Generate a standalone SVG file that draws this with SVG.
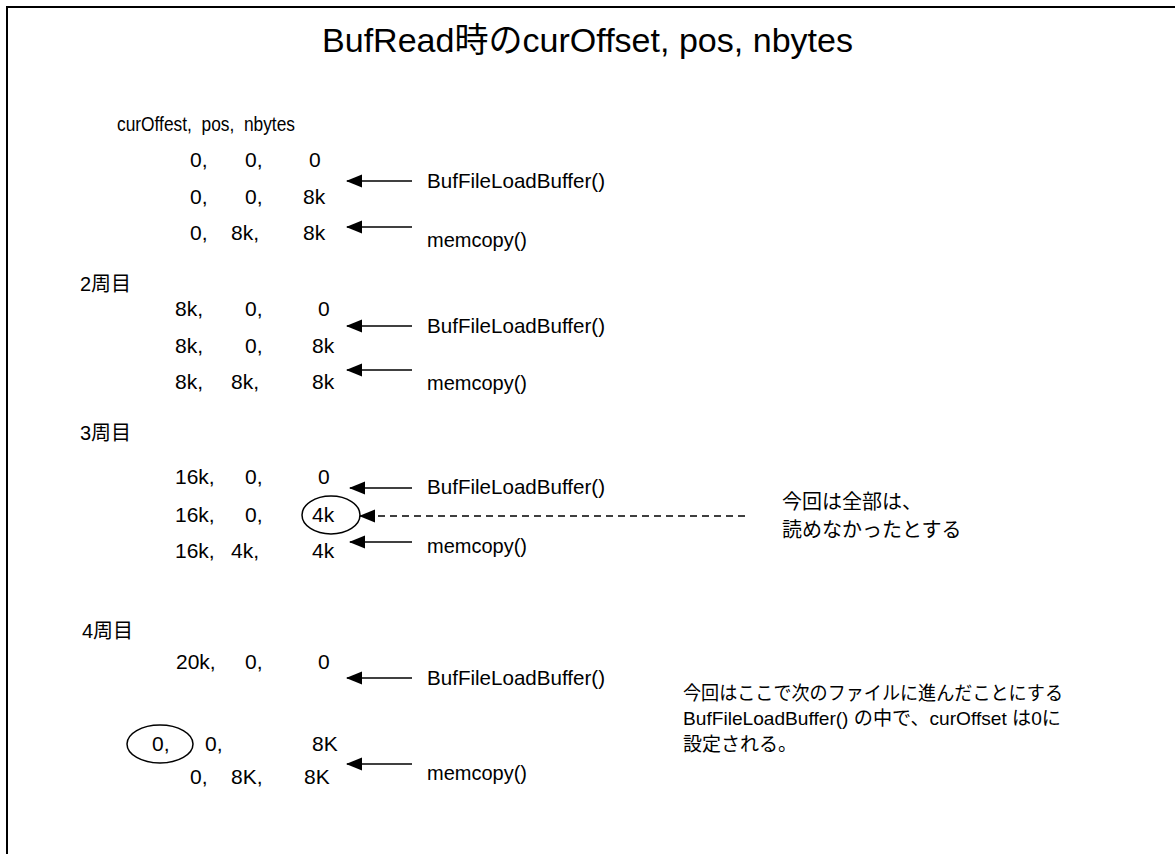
<svg xmlns="http://www.w3.org/2000/svg" width="1175" height="854" viewBox="0 0 1175 854">
  <style>
    text { font-family: "Liberation Sans", Arial, "Noto Sans CJK JP", sans-serif; fill: #000; }
    .title { font-size: 34px; }
    .hdr { font-size: 20px; }
    .v { font-size: 21px; }
    .lbl { font-size: 21px; }
    .jp { font-size: 20px; }
    .note { font-size: 19px; }
    .frame { fill: none; stroke: #000; stroke-width: 2; }
    .ln { stroke: #000; stroke-width: 1.5; fill: none; }
    .dash { stroke: #000; stroke-width: 1.5; fill: none; stroke-dasharray: 7 5; }
    .ring { fill: none; stroke: #000; stroke-width: 1.5; }
  </style>
  <defs>
    <marker id="head" markerWidth="16" markerHeight="14" refX="15" refY="7" orient="auto" markerUnits="userSpaceOnUse">
      <path d="M0,0.5 L16,7 L0,13.5 Z" fill="#000"/>
    </marker>
  </defs>

  <rect width="1175" height="854" fill="#fff"/>
  <!-- open frame: top and left edges -->
  <path class="frame" d="M7,854 V7 H1175"/>

  <g id="title">
    <text class="title" x="322" y="52" textLength="531" lengthAdjust="spacingAndGlyphs">BufRead時のcurOffset, pos, nbytes</text>
  </g>

  <g id="header">
    <text class="hdr" x="117" y="131" xml:space="preserve" textLength="178" lengthAdjust="spacingAndGlyphs">curOffest,  pos,  nbytes</text>
  </g>

  <!-- pass 1 -->
  <g id="p1-r1"><text class="v" x="190" y="167">0,</text><text class="v" x="245" y="167">0,</text><text class="v" x="309" y="167">0</text></g>
  <g id="p1-r2"><text class="v" x="190" y="204">0,</text><text class="v" x="245" y="204">0,</text><text class="v" x="303" y="204">8k</text></g>
  <g id="p1-r3"><text class="v" x="190" y="240">0,</text><text class="v" x="231" y="240">8k,</text><text class="v" x="303" y="240">8k</text></g>
  <g id="p1-load"><text class="lbl" x="427" y="188" textLength="178" lengthAdjust="spacingAndGlyphs">BufFileLoadBuffer()</text></g>
  <g id="p1-copy"><text class="lbl" x="427" y="247" textLength="100" lengthAdjust="spacingAndGlyphs">memcopy()</text></g>

  <!-- pass 2 -->
  <g id="p2-label"><text class="jp" x="80" y="291">2周目</text></g>
  <g id="p2-r1"><text class="v" x="175" y="316">8k,</text><text class="v" x="245" y="316">0,</text><text class="v" x="318" y="316">0</text></g>
  <g id="p2-r2"><text class="v" x="175" y="353">8k,</text><text class="v" x="245" y="353">0,</text><text class="v" x="312" y="353">8k</text></g>
  <g id="p2-r3"><text class="v" x="175" y="389">8k,</text><text class="v" x="231" y="389">8k,</text><text class="v" x="312" y="389">8k</text></g>
  <g id="p2-load"><text class="lbl" x="427" y="333" textLength="178" lengthAdjust="spacingAndGlyphs">BufFileLoadBuffer()</text></g>
  <g id="p2-copy"><text class="lbl" x="427" y="390" textLength="100" lengthAdjust="spacingAndGlyphs">memcopy()</text></g>

  <!-- pass 3 -->
  <g id="p3-label"><text class="jp" x="80" y="440">3周目</text></g>
  <g id="p3-r1"><text class="v" x="175" y="484">16k,</text><text class="v" x="245" y="484">0,</text><text class="v" x="318" y="484">0</text></g>
  <g id="p3-r2"><text class="v" x="175" y="522">16k,</text><text class="v" x="245" y="522">0,</text><text class="v" x="312" y="522">4k</text>
    <ellipse class="ring" cx="331" cy="515" rx="29" ry="19"/></g>
  <g id="p3-r3"><text class="v" x="175" y="558">16k,</text><text class="v" x="231" y="558">4k,</text><text class="v" x="312" y="558">4k</text></g>
  <g id="p3-load"><text class="lbl" x="427" y="494" textLength="178" lengthAdjust="spacingAndGlyphs">BufFileLoadBuffer()</text></g>
  <g id="p3-copy"><text class="lbl" x="427" y="553" textLength="100" lengthAdjust="spacingAndGlyphs">memcopy()</text></g>
  <g id="p3-note">
    <text class="jp" x="782" y="509">今回は全部は、</text>
    <text class="jp" x="782" y="537">読めなかったとする</text>
  </g>

  <!-- pass 4 -->
  <g id="p4-label"><text class="jp" x="82" y="638">4周目</text></g>
  <g id="p4-r1"><text class="v" x="176" y="669">20k,</text><text class="v" x="245" y="669">0,</text><text class="v" x="318" y="669">0</text></g>
  <g id="p4-r2"><text class="v" x="152" y="751">0,</text><text class="v" x="205" y="751">0,</text><text class="v" x="312" y="751">8K</text>
    <ellipse class="ring" cx="160" cy="744" rx="33" ry="19"/></g>
  <g id="p4-r3"><text class="v" x="190" y="784">0,</text><text class="v" x="231" y="784">8K,</text><text class="v" x="304" y="784">8K</text></g>
  <g id="p4-load"><text class="lbl" x="427" y="685" textLength="178" lengthAdjust="spacingAndGlyphs">BufFileLoadBuffer()</text></g>
  <g id="p4-copy"><text class="lbl" x="427" y="780" textLength="100" lengthAdjust="spacingAndGlyphs">memcopy()</text></g>
  <g id="p4-note">
    <text class="note" x="683" y="700" textLength="380" lengthAdjust="spacingAndGlyphs">今回はここで次のファイルに進んだことにする</text>
    <text class="note" x="683" y="725" textLength="378" lengthAdjust="spacingAndGlyphs">BufFileLoadBuffer() の中で、curOffset は0に</text>
    <text class="note" x="683" y="751">設定される。</text>
  </g>

  <g id="connectors">
    <line class="ln" x1="412" y1="181" x2="347" y2="181" marker-end="url(#head)"/>
    <line class="ln" x1="412" y1="227" x2="347" y2="227" marker-end="url(#head)"/>
    <line class="ln" x1="412" y1="326" x2="347" y2="326" marker-end="url(#head)"/>
    <line class="ln" x1="412" y1="370" x2="347" y2="370" marker-end="url(#head)"/>
    <line class="ln" x1="412" y1="488" x2="350" y2="488" marker-end="url(#head)"/>
    <line class="dash" x1="745" y1="516" x2="360" y2="516" marker-end="url(#head)"/>
    <line class="ln" x1="412" y1="542" x2="350" y2="542" marker-end="url(#head)"/>
    <line class="ln" x1="412" y1="678" x2="347" y2="678" marker-end="url(#head)"/>
    <line class="ln" x1="412" y1="764" x2="347" y2="764" marker-end="url(#head)"/>
  </g>
</svg>
